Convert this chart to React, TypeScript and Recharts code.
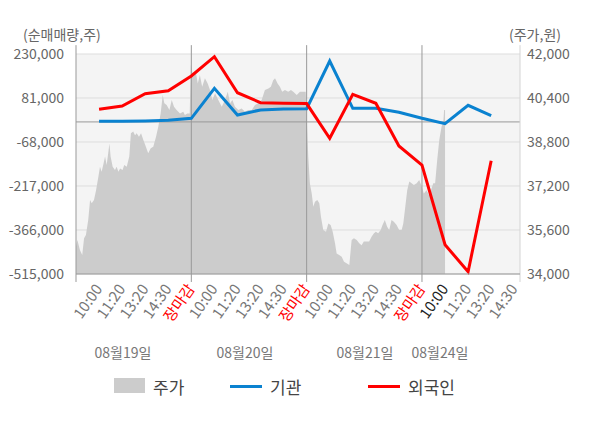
import {
  ComposedChart,
  Area,
  Line,
  XAxis,
  YAxis,
  CartesianGrid,
  ReferenceLine,
} from "recharts";

const FONT = "'Noto Sans CJK KR', 'Noto Sans', sans-serif";

// x positions are "slots": 5 per trading day (10:00, 11:20, 13:20, 14:30, 장마감)
const slotLabels = [
  "",
  "10:00", "11:20", "13:20", "14:30", "장마감",
  "10:00", "11:20", "13:20", "14:30", "장마감",
  "10:00", "11:20", "13:20", "14:30", "장마감",
  "10:00", "11:20", "13:20", "14:30",
];
const currentSlot = 16;
const dayBounds = [0, 5, 10, 15];
const dateLabels = ["08월19일", "08월20일", "08월21일", "08월24일"];

const flowSlots = [1, 2, 3, 4, 5, 6, 7, 8, 9, 10, 11, 12, 13, 14, 15, 16, 17, 18];
const instNet = [
  2000, 2000, 3000, 5400, 12200, 113800, 23400, 40400, 43700, 44700, 206300,
  46000, 46000, 32600, 12200, -6000, 56300, 21100,
];
const foreignNet = [
  42700, 53900, 95600, 105700, 155500, 220900, 98900, 65100, 63000, 62000,
  -55500, 93500, 63000, -81500, -145900, -416000, -507200, -131300,
];

const leftTicks = [230000, 81000, -68000, -217000, -366000, -515000];
const rightTicks = [42000, 40400, 38800, 37200, 35600, 34000];

// intraday price, [slot, 원]
const priceTrace: [number, number][] = [
  [0, 35000], [0.06, 35240], [0.17, 34870], [0.27, 34690], [0.35, 35300], [0.43, 35420],
  [0.53, 35960], [0.61, 36690], [0.68, 36570], [0.78, 36690], [0.87, 37050], [0.97, 37540],
  [1.04, 37900], [1.11, 37720], [1.18, 37960], [1.26, 38270], [1.33, 37960], [1.45, 38750],
  [1.5, 38270], [1.59, 37900], [1.69, 37780], [1.76, 37900], [1.84, 37720], [1.91, 37840],
  [2.02, 37780], [2.09, 37960], [2.2, 37900], [2.31, 38270], [2.38, 39120], [2.48, 39180],
  [2.56, 39050], [2.63, 39120], [2.73, 38990], [2.82, 39120], [2.92, 38870], [3.03, 38630],
  [3.13, 38390], [3.24, 38570], [3.35, 38630], [3.47, 38990], [3.57, 39360], [3.67, 39840],
  [3.76, 40510], [3.83, 40210], [3.93, 40150], [4.05, 39960], [4.15, 40330], [4.25, 40080],
  [4.36, 39960], [4.51, 39840], [4.65, 39900], [4.72, 39780], [4.83, 39840], [4.93, 39840],
  [4.98, 41600], [5.08, 41170], [5.19, 41360], [5.28, 40930], [5.37, 41240], [5.47, 40810],
  [5.59, 41120], [5.71, 40930], [5.81, 40690], [5.91, 40330], [6.03, 40570], [6.17, 40330],
  [6.32, 40080], [6.46, 40330], [6.58, 40630], [6.68, 40210], [6.78, 40330], [6.89, 40080],
  [7.04, 39960], [7.18, 40020], [7.33, 39900], [7.47, 39960], [7.62, 39960], [7.76, 40150],
  [7.9, 40210], [8.05, 40330], [8.19, 40690], [8.34, 40750], [8.45, 40810], [8.55, 41050],
  [8.63, 41120], [8.74, 40930], [8.84, 40810], [8.94, 40630], [9.06, 40690], [9.2, 40630],
  [9.32, 40690], [9.42, 40630], [9.57, 40510], [9.71, 40630], [9.85, 40630], [9.96, 40630],
  [10, 39720], [10.07, 38270], [10.14, 37300], [10.22, 36930], [10.29, 36450], [10.36, 36630],
  [10.46, 36690], [10.55, 36570], [10.62, 36080], [10.72, 35600], [10.84, 35540], [10.94, 35840],
  [11.04, 35780], [11.13, 35540], [11.23, 35120], [11.3, 34750], [11.41, 34690], [11.52, 34630],
  [11.62, 34450], [11.73, 34390], [11.85, 34330], [11.95, 35240], [12.05, 35300], [12.17, 35240],
  [12.28, 35120], [12.38, 35050], [12.48, 35180], [12.6, 35180], [12.71, 35180], [12.82, 35360],
  [12.92, 35480], [13, 35540], [13.1, 35480], [13.21, 35600], [13.29, 35780], [13.39, 35960],
  [13.49, 35720], [13.58, 35600], [13.68, 35960], [13.78, 35900], [13.9, 35780], [14.01, 35600],
  [14.12, 35600], [14.19, 35840], [14.26, 36330], [14.36, 37050], [14.45, 37360], [14.55, 37300],
  [14.65, 37240], [14.77, 37300], [14.88, 37420], [14.99, 37180], [15.08, 36930], [15.2, 37050],
  [15.3, 36870], [15.39, 37050], [15.49, 37300], [15.57, 37300], [15.66, 38150], [15.75, 38870],
  [15.85, 39360], [15.92, 39480], [15.96, 39960], [16, 39960],
];

const priceData = priceTrace.map(([slot, price]) => ({ slot, price }));
const flowData = flowSlots.map((slot, i) => ({
  slot,
  inst: instNet[i],
  foreign: foreignNet[i],
}));

const fmt = (n: number) => n.toLocaleString("en-US");

function SlotTick({ x, y, payload }: any) {
  const i = payload.value as number;
  const text = slotLabels[i];
  if (!text) return <g />;
  const color = text === "장마감" ? "#ff0000" : i === currentSlot ? "#222" : "#777";
  const ax = x + 4;
  const ay = y + 15;
  return (
    <text
      x={ax}
      y={ay}
      transform={`rotate(-55 ${ax} ${ay})`}
      textAnchor="end"
      fill={color}
      fontSize={15}
      fontFamily={FONT}
    >
      {text}
    </text>
  );
}

const datePos = [123, 245, 365, 440];

export default function App() {
  return (
    <div style={{ position: "absolute", left: 0, top: 0, width: 600, height: 428, fontFamily: FONT }}>
      <div style={{ position: "absolute", left: 23, top: 24, fontSize: 14, color: "#666" }}>
        (순매매량,주)
      </div>
      <div style={{ position: "absolute", left: 509, top: 24, fontSize: 14, color: "#666" }}>
        (주가,원)
      </div>
      <ComposedChart width={600} height={428} margin={{ top: 54, right: 0, bottom: 94, left: 0 }}>
        <CartesianGrid
          yAxisId="left"
          vertical={false}
          stroke="#dddddd"
          fill="#f4f4f4"
        />
        <XAxis
          dataKey="slot"
          type="number"
          domain={[0, 19.25]}
          ticks={slotLabels.map((_, i) => i)}
          interval={0}
          tickSize={0}
          tickMargin={0}
          height={60}
          axisLine={{ stroke: "#999" }}
          tickLine={false}
          tick={<SlotTick />}
          allowDataOverflow
        />
        <YAxis
          yAxisId="left"
          orientation="left"
          width={76}
          domain={[-515000, 230000]}
          ticks={leftTicks}
          interval={0}
          axisLine={false}
          tickLine={false}
          tickMargin={6}
          tickFormatter={fmt}
          tick={{ fontSize: 14, fill: "#666", fontFamily: FONT }}
        />
        <YAxis
          yAxisId="right"
          orientation="right"
          width={80}
          domain={[34000, 42000]}
          ticks={rightTicks}
          interval={0}
          axisLine={false}
          tickLine={false}
          tickMargin={1}
          tickFormatter={fmt}
          tick={{ fontSize: 14, fill: "#666", fontFamily: FONT, textAnchor: "start" }}
        />
        <Area
          data={priceData}
          yAxisId="right"
          dataKey="price"
          type="linear"
          stroke="none"
          fill="#cccccc"
          fillOpacity={1}
          dot={false}
          activeDot={false}
          isAnimationActive={false}
        />
        <ReferenceLine yAxisId="left" y={0} stroke="#999" strokeWidth={1} />
        {dayBounds.map((b) => (
          <ReferenceLine
            key={b}
            yAxisId="left"
            segment={[
              { x: b, y: 260000 },
              { x: b, y: -542000 },
            ]}
            ifOverflow="visible"
            stroke="#999"
          />
        ))}
        <ReferenceLine
          yAxisId="left"
          segment={[
            { x: 19.25, y: 260000 },
            { x: 19.25, y: -542000 },
          ]}
          ifOverflow="visible"
          stroke="#d4d4d4"
        />
        <Line
          data={flowData}
          yAxisId="left"
          dataKey="inst"
          type="linear"
          stroke="#0a82d0"
          strokeWidth={3}
          dot={false}
          activeDot={false}
          isAnimationActive={false}
        />
        <Line
          data={flowData}
          yAxisId="left"
          dataKey="foreign"
          type="linear"
          stroke="#ff0000"
          strokeWidth={3}
          dot={false}
          activeDot={false}
          isAnimationActive={false}
        />
      </ComposedChart>
      {dateLabels.map((d, i) => (
        <div
          key={d}
          style={{
            position: "absolute",
            left: datePos[i] - 40,
            width: 80,
            top: 342,
            textAlign: "center",
            fontSize: 14,
            color: "#777",
          }}
        >
          {d}
        </div>
      ))}
      <div style={{ position: "absolute", top: 374, left: 0, width: 600, height: 24, fontSize: 17, color: "#444" }}>
        <div style={{ position: "absolute", left: 114, top: 4, width: 31, height: 15, background: "#cccccc" }} />
        <div style={{ position: "absolute", left: 153, top: 0 }}>주가</div>
        <div style={{ position: "absolute", left: 230, top: 11, width: 32, height: 3, background: "#0a82d0" }} />
        <div style={{ position: "absolute", left: 270, top: 0 }}>기관</div>
        <div style={{ position: "absolute", left: 368, top: 11, width: 32, height: 3, background: "#ff0000" }} />
        <div style={{ position: "absolute", left: 408, top: 0 }}>외국인</div>
      </div>
    </div>
  );
}
